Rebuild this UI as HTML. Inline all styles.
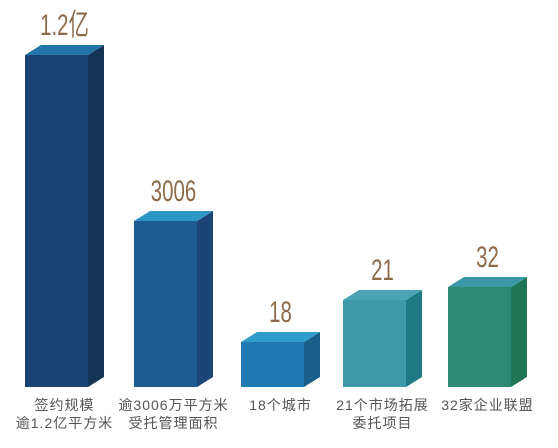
<!DOCTYPE html>
<html><head><meta charset="utf-8"><style>
html,body{margin:0;padding:0;background:#fff;}
svg{display:block;}
.val{font-family:"Liberation Sans Narrow","Liberation Sans","Noto Sans CJK SC",sans-serif;fill:#8d6b48;font-size:30px;}
.cat{font-family:"Liberation Sans","Noto Sans CJK SC",sans-serif;fill:#555;font-size:14px;letter-spacing:1px;}
</style></head><body>
<svg id="chart" width="558" height="448" viewBox="0 0 558 448"></svg>
<script>
const categories = [["签约规模","逾1.2亿平方米"],["逾3006万平方米","受托管理面积"],["18个城市"],["21个市场拓展","委托项目"],["32家企业联盟"]];
const valueLabels = ["1.2亿","3006","18","21","32"];
const barLevels = [332,166,45,87,100];
const frontColors = ["#1a4272","#1f5b93","#2079b0","#3e9aa8","#2f8a73"];
const sideColors = ["#143456","#1a4576","#1a5f8a","#1e7a84","#1f7657"];
const topColors = ["#2475a8","#2e96c4","#2f9cc9","#4aa4b3","#3a98a4"];

const svg = document.getElementById('chart');
const NS = 'http://www.w3.org/2000/svg';
const baseY = 387, barW = 63, dx = 16, dy = 10;
function xPos(i){ return 27 + i*106 + [-2,1,2,-2,-3][i]; }
function yPos(v){ return baseY - v; }
function mk(tag, attrs){ const e=document.createElementNS(NS,tag); for(const k in attrs) e.setAttribute(k,attrs[k]); svg.appendChild(e); return e; }

barLevels.forEach((v,i)=>{
  const x=xPos(i), y=yPos(v);
  const f=mk('rect',{x:x,y:y,width:barW,height:baseY-y,fill:frontColors[i]});
  
  
  const s=mk('polygon',{points:`${x+barW},${y} ${x+barW+dx},${y-dy} ${x+barW+dx},${baseY-dy} ${x+barW},${baseY}`,fill:sideColors[i]});
  
  
  const t=mk('polygon',{points:`${x},${y} ${x+dx},${y-dy} ${x+barW+dx},${y-dy} ${x+barW},${y}`,fill:topColors[i]});
  
  
  const cx=x+barW/2+8;
  const l=mk('text',{x:cx,y:y-20,'text-anchor':'middle',class:'val',transform:`translate(${cx},0) scale(0.68,1) translate(${-cx},0)`});
  l.textContent=valueLabels[i];
  
  
  categories[i].forEach((line,j)=>{
    const c=mk('text',{x:cx,y:410+j*18,'text-anchor':'middle',class:'cat'});
    c.textContent=line;
    
    
  });
});
</script>
</body></html>
